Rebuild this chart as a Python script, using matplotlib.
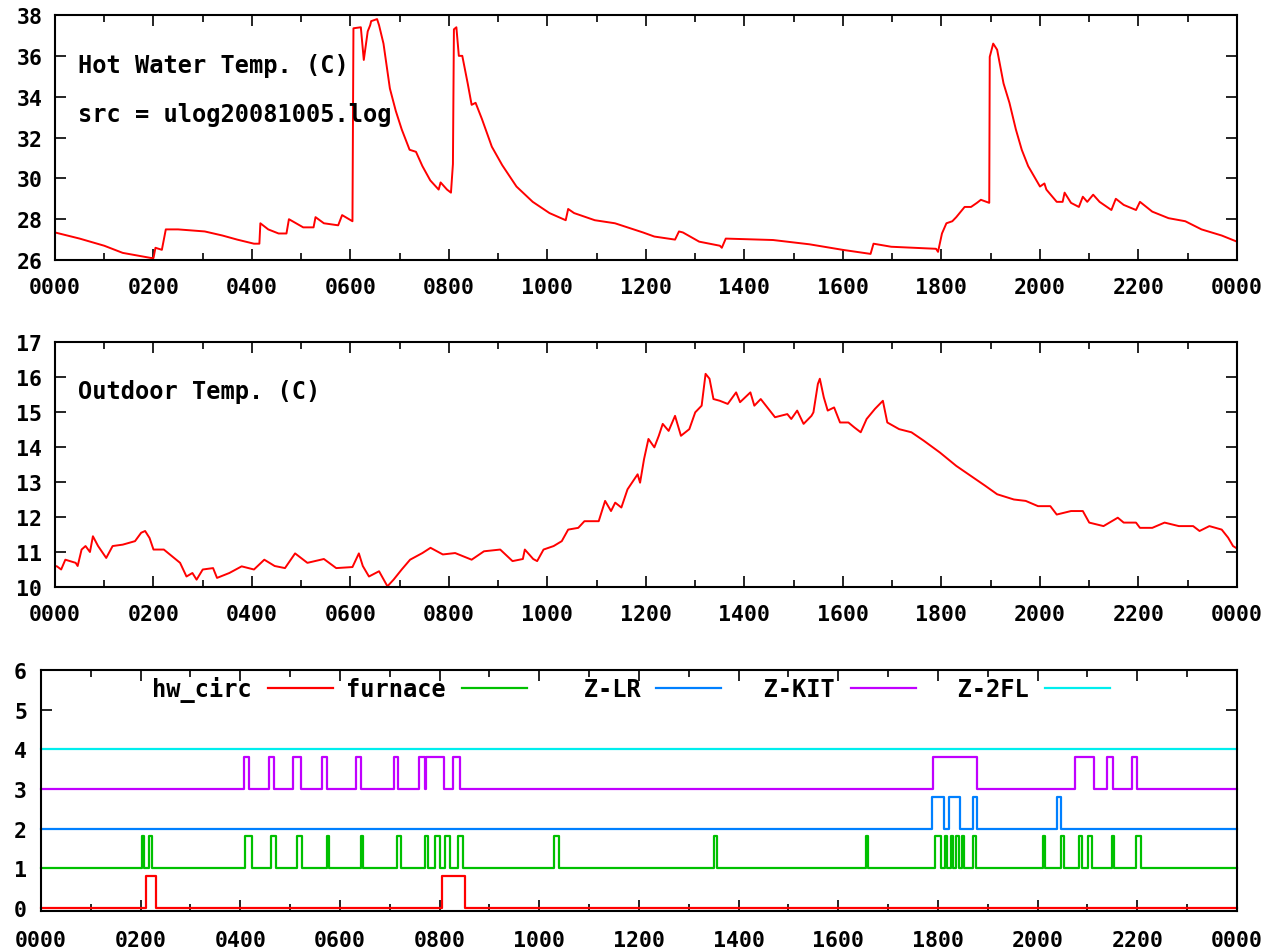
import matplotlib
matplotlib.use("Agg")
import matplotlib.pyplot as plt
from matplotlib.ticker import MultipleLocator, FixedLocator

# x axis is hours since midnight; labels wrap back to 0000 at the right edge
TICK_HOURS = list(range(0, 25, 2))
TICK_LABELS = ["0000", "0200", "0400", "0600", "0800", "1000", "1200",
               "1400", "1600", "1800", "2000", "2200", "0000"]

# hot water temperature (C)
hw_t = [0.0, 0.5, 1.0, 1.375, 1.95, 2.0, 2.04, 2.17, 2.25, 2.5, 3.04, 3.4, 3.7,
        4.04, 4.15, 4.17, 4.33, 4.54, 4.7, 4.75, 5.04, 5.25, 5.29, 5.46, 5.75,
        5.83, 6.04, 6.06, 6.21, 6.27, 6.35, 6.4, 6.42, 6.54, 6.58, 6.67, 6.8,
        6.92, 7.04, 7.2, 7.33, 7.46, 7.62, 7.79, 7.83, 7.96, 8.04, 8.08, 8.1,
        8.15, 8.2, 8.27, 8.38, 8.46, 8.54, 8.67, 8.87, 9.08, 9.37, 9.7, 10.04,
        10.37, 10.42, 10.54, 10.96, 11.37, 11.94, 12.17, 12.59, 12.67, 12.75,
        13.08, 13.5, 13.54, 13.62, 14.58, 15.32, 15.99, 16.56, 16.62, 16.98,
        17.89, 17.93, 18.01, 18.1, 18.22, 18.3, 18.47, 18.6, 18.72, 18.8, 18.97,
        18.98, 19.05, 19.13, 19.26, 19.38, 19.51, 19.63, 19.76, 19.88, 20.0,
        20.09, 20.13, 20.34, 20.46, 20.5, 20.63, 20.79, 20.87, 20.96, 21.08,
        21.21, 21.45, 21.54, 21.7, 21.95, 22.03, 22.28, 22.61, 22.95, 23.28,
        23.69, 24.0]
hw_v = [27.35, 27.05, 26.7, 26.35, 26.1, 26.1, 26.6, 26.5, 27.5, 27.5, 27.4,
        27.2, 27.0, 26.8, 26.8, 27.8, 27.5, 27.3, 27.3, 28.0, 27.6, 27.6, 28.1,
        27.8, 27.7, 28.2, 27.9, 37.35, 37.4, 35.8, 37.2, 37.5, 37.7, 37.8, 37.5,
        36.6, 34.4, 33.3, 32.4, 31.4, 31.3, 30.6, 29.9, 29.45, 29.8, 29.45,
        29.3, 30.7, 37.3, 37.4, 36.0, 36.0, 34.65, 33.6, 33.7, 32.9, 31.55,
        30.65, 29.6, 28.85, 28.3, 27.95, 28.5, 28.3, 27.95, 27.8, 27.35, 27.15,
        27.0, 27.4, 27.35, 26.9, 26.7, 26.6, 27.05, 26.98, 26.77, 26.5, 26.3,
        26.8, 26.65, 26.55, 26.4, 27.3, 27.8, 27.9, 28.1, 28.6, 28.6, 28.8,
        28.95, 28.8, 35.95, 36.6, 36.3, 34.65, 33.7, 32.4, 31.4, 30.6, 30.1,
        29.6, 29.75, 29.45, 28.85, 28.85, 29.3, 28.8, 28.6, 29.1, 28.85, 29.2,
        28.85, 28.45, 29.0, 28.7, 28.45, 28.85, 28.37, 28.05, 27.9, 27.5, 27.2,
        26.9]

# outdoor temperature (C)
out_t = [0.0, 0.04, 0.125, 0.21, 0.42, 0.46, 0.54, 0.62, 0.71, 0.77, 0.875,
         1.04, 1.17, 1.375, 1.625, 1.75, 1.83, 1.92, 2.0, 2.21, 2.375, 2.54,
         2.67, 2.79, 2.875, 3.0, 3.21, 3.29, 3.54, 3.79, 4.04, 4.25, 4.46, 4.67,
         4.875, 5.125, 5.46, 5.71, 6.04, 6.17, 6.25, 6.375, 6.58, 6.75, 6.875,
         7.04, 7.21, 7.46, 7.625, 7.875, 8.125, 8.46, 8.71, 9.04, 9.29, 9.5,
         9.54, 9.71, 9.79, 9.92, 10.125, 10.29, 10.42, 10.625, 10.75, 11.04,
         11.17, 11.29, 11.375, 11.5, 11.625, 11.83, 11.88, 11.96, 12.05, 12.17,
         12.26, 12.34, 12.46, 12.59, 12.71, 12.88, 13.0, 13.13, 13.21, 13.29,
         13.37, 13.5, 13.66, 13.83, 13.91, 14.12, 14.2, 14.33, 14.62, 14.87,
         14.95, 15.07, 15.2, 15.36, 15.4, 15.49, 15.53, 15.61, 15.69, 15.82,
         15.94, 16.11, 16.23, 16.36, 16.48, 16.65, 16.81, 16.9, 17.14, 17.39,
         17.64, 17.97, 18.3, 18.64, 18.89, 19.13, 19.47, 19.71, 19.96, 20.21,
         20.34, 20.63, 20.87, 21.0, 21.29, 21.58, 21.7, 21.95, 22.03, 22.28,
         22.53, 22.82, 23.11, 23.24, 23.44, 23.69, 23.82, 23.92, 24.0]
out_v = [10.6, 10.59, 10.5, 10.78, 10.69, 10.6, 11.07, 11.17, 11.0, 11.45,
         11.17, 10.83, 11.17, 11.21, 11.31, 11.55, 11.6, 11.4, 11.07, 11.07,
         10.88, 10.69, 10.3, 10.4, 10.21, 10.5, 10.54, 10.26, 10.4, 10.59, 10.5,
         10.78, 10.6, 10.54, 10.96, 10.69, 10.8, 10.54, 10.57, 10.96, 10.6,
         10.3, 10.45, 10.02, 10.21, 10.5, 10.78, 10.97, 11.12, 10.93, 10.97,
         10.78, 11.02, 11.07, 10.74, 10.8, 11.07, 10.8, 10.74, 11.07, 11.17,
         11.31, 11.64, 11.69, 11.88, 11.88, 12.46, 12.17, 12.41, 12.27, 12.79,
         13.22, 12.98, 13.65, 14.23, 13.99, 14.32, 14.66, 14.46, 14.89, 14.32,
         14.51, 14.99, 15.18, 16.09, 15.95, 15.37, 15.32, 15.23, 15.56, 15.28,
         15.56, 15.18, 15.37, 14.85, 14.94, 14.8, 15.04, 14.66, 14.89, 14.99,
         15.8, 15.95, 15.42, 15.04, 15.13, 14.7, 14.7, 14.56, 14.42, 14.8,
         15.09, 15.32, 14.7, 14.51, 14.42, 14.18, 13.84, 13.46, 13.13, 12.89,
         12.65, 12.5, 12.46, 12.31, 12.31, 12.07, 12.17, 12.17, 11.84, 11.74,
         11.98, 11.84, 11.84, 11.69, 11.69, 11.84, 11.74, 11.74, 11.6, 11.74,
         11.64, 11.41, 11.17, 11.1]

# on/off periods (hours) for each relay channel
hw_circ_on = [(2.1, 2.31), (8.05, 8.51)]
furnace_on = [(2.02, 2.07), (2.16, 2.23), (4.09, 4.23), (4.61, 4.72),
              (5.14, 5.24), (5.73, 5.78), (6.42, 6.47), (7.15, 7.22),
              (7.71, 7.76), (7.91, 8.0), (8.11, 8.21), (8.37, 8.46),
              (10.29, 10.39), (13.5, 13.56), (16.55, 16.6), (17.94, 18.06),
              (18.15, 18.19), (18.26, 18.31), (18.37, 18.42), (18.48, 18.53),
              (18.71, 18.77), (20.11, 20.15), (20.47, 20.52), (20.83, 20.9),
              (21.02, 21.09), (21.49, 21.54), (21.98, 22.08)]
zlr_on = [(17.88, 18.12), (18.23, 18.45), (18.7, 18.79), (20.39, 20.47)]
zkit_on = [(4.08, 4.18), (4.57, 4.67), (5.06, 5.21), (5.63, 5.73),
           (6.33, 6.43), (7.09, 7.17), (7.58, 7.71), (7.72, 8.09),
           (8.27, 8.41), (17.9, 18.79), (20.74, 21.14), (21.4, 21.52),
           (21.89, 21.99)]
z2fl_on = []

CHANNELS = ["hw_circ", "furnace", "Z-LR", "Z-KIT", "Z-2FL"]
CHANNEL_ON = [hw_circ_on, furnace_on, zlr_on, zkit_on, z2fl_on]
COLORS = ["#ff0000", "#00c000", "#0080ff", "#c000ff", "#00eeee"]

FONT = "DejaVu Sans Mono"
HIGH = 0.8   # height of an "on" pulse above the channel's base line


def to_steps(periods, base):
    t, y = [0.0], [base]
    for on, off in periods:
        t += [on, off]
        y += [base + HIGH, base]
    t.append(24.0)
    y.append(base)
    return t, y


def style_axis(ax, ylim, ymajor, xlabel_pad, ylabel_pad):
    ax.set_xlim(0, 24)
    ax.set_ylim(*ylim)
    ax.xaxis.set_major_locator(FixedLocator(TICK_HOURS))
    ax.set_xticklabels(TICK_LABELS)
    ax.xaxis.set_minor_locator(MultipleLocator(1))
    ax.yaxis.set_major_locator(MultipleLocator(ymajor))
    ax.tick_params(which="both", direction="in", top=True, right=True,
                   width=1.2, labelsize=15.5)
    ax.tick_params(which="major", length=8)
    ax.tick_params(which="minor", length=5)
    ax.tick_params(axis="x", pad=xlabel_pad)
    ax.tick_params(axis="y", pad=ylabel_pad)
    for lab in ax.get_xticklabels() + ax.get_yticklabels():
        lab.set_fontfamily(FONT)
        lab.set_fontweight("bold")
    for s in ax.spines.values():
        s.set_linewidth(1.5)


def main():
    fig = plt.figure(figsize=(12.73, 9.53), dpi=100)
    txt = dict(fontfamily=FONT, fontweight="bold", fontsize=17,
               va="center", ha="left")

    # hot water
    ax1 = fig.add_axes([0.0432, 0.7261, 0.9285, 0.2571])
    ax1.plot(hw_t, hw_v, color="#ff0000", lw=1.4)
    style_axis(ax1, (26, 38), 2, 12, 9)
    ax1.text(0.0195, 0.796, "Hot Water Temp. (C)", transform=ax1.transAxes, **txt)
    ax1.text(0.0195, 0.596, "src = ulog20081005.log", transform=ax1.transAxes, **txt)

    # outdoor
    ax2 = fig.add_axes([0.0432, 0.3830, 0.9285, 0.2571])
    ax2.plot(out_t, out_v, color="#ff0000", lw=1.4)
    style_axis(ax2, (10, 17), 1, 12, 9)
    ax2.text(0.0195, 0.80, "Outdoor Temp. (C)", transform=ax2.transAxes, **txt)

    # relay states, each channel offset by one unit
    ax3 = fig.add_axes([0.0322, 0.0430, 0.9395, 0.2529])
    for i, (name, periods, color) in enumerate(zip(CHANNELS, CHANNEL_ON, COLORS)):
        t, y = to_steps(periods, i)
        ax3.step(t, y, where="post", color=color, lw=1.6,
                 label=name.rjust(7), clip_on=False)
    style_axis(ax3, (-0.08, 6), 1, 14, 10)
    # monospace labels padded to equal width -> right-aligned like gnuplot's key
    leg = ax3.legend(loc="center left", bbox_to_anchor=(0.093, 0.921), ncol=5,
                     frameon=False, markerfirst=False, borderpad=0,
                     borderaxespad=0, handlelength=2.75, handletextpad=0.68,
                     columnspacing=0.57, prop=dict(family=FONT, weight="bold",
                                                   size=17))
    for h in leg.get_lines():
        h.set_linewidth(1.6)

    fig.savefig("out.png", dpi=100)
    plt.close(fig)


if __name__ == "__main__":
    main()
